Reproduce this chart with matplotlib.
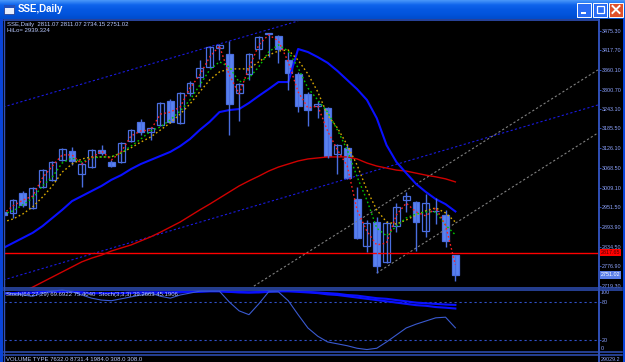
import matplotlib
matplotlib.use("Agg")
import matplotlib.pyplot as plt
import numpy as np
from matplotlib.patches import Rectangle
from matplotlib.colors import LinearSegmentedColormap
from matplotlib.transforms import blended_transform_factory

plt.rcParams['font.family'] = ['Liberation Sans', 'DejaVu Sans']

# ---- candles (SSE daily) ----
opens = [2937.7, 2934.8, 2994.1, 2949.6, 3011.8, 3032.6, 3091.9, 3118.6, 3050.4, 3071.2,
         3121.5, 3086.0, 3086.0, 3148.2, 3204.6, 3174.9, 3195.7, 3266.8, 3201.6, 3290.6,
         3338.0, 3367.6, 3424.0, 3406.2, 3290.6, 3346.9, 3421.0, 3466.0, 3459.6, 3388.4,
         3346.9, 3287.6, 3252.0, 3246.1, 3109.7, 3127.5, 2976.3, 2836.9, 2908.1, 2789.5,
         2896.2, 2973.3, 2967.4, 2881.4, 2940.7, 2928.8, 2811.07]
highs = [2943.7, 2976.3, 3000.0, 3011.8, 3065.2, 3088.9, 3127.5, 3130.4, 3086.0, 3124.5,
         3136.4, 3091.9, 3145.3, 3183.8, 3213.5, 3189.7, 3263.9, 3272.8, 3293.5, 3326.1,
         3388.4, 3429.9, 3435.8, 3444.7, 3320.2, 3409.2, 3459.6, 3468.5, 3462.6, 3412.1,
         3352.9, 3293.5, 3266.8, 3249.1, 3139.3, 3139.3, 3011.8, 2914.0, 2922.9, 2911.1,
         2964.4, 2997.0, 2970.4, 2991.1, 2979.2, 2943.7, 2811.07]
lows = [2922.9, 2919.9, 2952.5, 2946.6, 3008.9, 3029.6, 3088.9, 3077.1, 3011.8, 3068.2,
        3106.7, 3071.2, 3083.0, 3145.3, 3166.0, 3151.2, 3192.7, 3201.6, 3198.7, 3281.7,
        3308.3, 3364.7, 3388.4, 3166.0, 3207.5, 3329.1, 3391.4, 3397.3, 3379.5, 3299.4,
        3234.2, 3192.7, 3216.4, 3097.8, 3050.4, 3035.6, 2857.7, 2819.1, 2756.9, 2786.5,
        2878.4, 2937.7, 2822.1, 2863.6, 2902.1, 2833.9, 2734.15]
closes = [2928.8, 2973.3, 2958.5, 3008.9, 3062.2, 3086.0, 3124.5, 3088.9, 3080.0, 3121.5,
          3112.7, 3074.1, 3142.3, 3180.8, 3174.9, 3186.8, 3260.9, 3204.6, 3290.6, 3320.2,
          3364.7, 3426.9, 3432.9, 3257.9, 3317.2, 3406.2, 3456.6, 3468.5, 3421.0, 3349.9,
          3252.0, 3240.2, 3257.9, 3103.8, 3136.4, 3038.5, 2860.6, 2905.1, 2777.6, 2905.1,
          2952.5, 2985.2, 2908.1, 2964.4, 2939.5, 2851.7, 2751.02]

# indicator lines
ma_red = [2932, 2956, 2973, 2985, 3039, 3074, 3107, 3107, 3080, 3098,
          3119, 3092, 3116, 3163, 3178, 3181, 3228, 3234, 3249, 3305,
          3344, 3397, 3430, 3344, 3288, 3365, 3433, 3463, 3445, 3383,
          3294, 3246, 3252, 3178, 3122, 3074, 2944, 2881, 2840, 2846,
          2929, 2964, 2938, 2926, 2950, 2899, 2781]
ma_green = [2932, 2941, 2959, 2979, 3015, 3042, 3083, 3098, 3086, 3098,
            3101, 3101, 3113, 3133, 3154, 3178, 3190, 3211, 3237, 3270,
            3314, 3359, 3383, 3368, 3323, 3335, 3368, 3412, 3433, 3415,
            3365, 3305, 3270, 3234, 3181, 3122, 3042, 2973, 2890, 2867,
            2896, 2920, 2932, 2938, 2938, 2899, 2870]
ma_gold = [2908, 2917, 2932, 2953, 2982, 3015, 3056, 3080, 3095, 3101,
           3101, 3101, 3113, 3128, 3145, 3160, 3181, 3202, 3228, 3258,
           3294, 3329, 3353, 3362, 3362, 3362, 3383, 3403, 3415, 3418,
           3388, 3347, 3294, 3225, 3187, 3136, 3077, 3003, 2944, 2908,
           2902, 2914, 2929, 2941, 2950, 2935, 2908]
hilo = [2831, 2846, 2861, 2876, 2896, 2920, 2944, 2970, 2985, 3000,
        3015, 3033, 3047, 3065, 3080, 3092, 3104, 3116, 3133, 3154,
        3181, 3205, 3234, 3240, 3243, 3261, 3282, 3302, 3323, 3323,
        3421, 3412, 3397, 3380, 3356, 3329, 3302, 3270, 3216, 3136,
        3086, 3053, 3021, 2997, 2976, 2961, 2939.324]
ma_long = [2671, 2686, 2701, 2715, 2730, 2745, 2760, 2775, 2790, 2801,
           2810, 2822, 2831, 2840, 2852, 2864, 2878, 2893, 2908, 2926,
           2944, 2961, 2979, 2997, 3015, 3030, 3044, 3059, 3071, 3080,
           3089, 3095, 3098, 3101, 3101, 3101, 3095, 3083, 3074, 3068,
           3062, 3059, 3053, 3047, 3042, 3036, 3027]

stoch_slow_main = [94, 94, 95, 95, 96, 97, 97, 96, 95, 94,
                   94, 94, 94, 95, 95, 95, 95, 95, 96, 96,
                   97, 97, 97, 96, 95, 95, 96, 97, 97, 97,
                   96, 95, 94, 92, 91, 89, 87, 85, 83, 81,
                   79, 77, 75, 74, 72, 71, 69.69]
stoch_slow_sig = [93, 93, 94, 94, 95, 96, 96, 96, 95, 94,
                  94, 94, 94, 94, 95, 95, 95, 95, 95, 96,
                  96, 97, 97, 96, 96, 95, 95, 96, 97, 97,
                  97, 96, 95, 94, 93, 91, 90, 88, 86, 85,
                  83, 81, 79, 78, 77, 76, 75.40]
stoch_fast = [94, 93, 91, 89, 94, 97, 99, 96, 91, 86,
              83, 82, 85, 88, 91, 94, 89, 86, 91, 94,
              97, 97, 97, 80, 66, 60, 77, 96, 96, 82,
              60, 39, 26, 17, 14, 11, 7, 5, 7, 17,
              28, 39, 45, 50, 55, 56, 39.27]

price_levels = [3475.30, 3417.70, 3360.10, 3300.70, 3243.10, 3185.50, 3126.10,
                3068.50, 3009.10, 2951.50, 2893.90, 2834.50, 2776.90, 2719.30]
hline_price = 2817.65
# trend lines: (bar index, price)
channel_top = ([0, 30], [3249, 3504])
channel_bot = ([0, 60.5], [2736, 3255])
gray_upper = ([25.5, 60.5], [2718, 3359])
gray_lower = ([38, 60.5], [2757, 3172])

W, H = 625, 362
fig = plt.figure(figsize=(W / 100, H / 100), dpi=100, facecolor='black')


def rect(x0, y0, x1, y1):
    return [x0 / W, 1 - y1 / H, (x1 - x0) / W, (y1 - y0) / H]


FRAME = '#3050b8'
LBL = '#8ea4ff'
FS = 3.9
CANDLE_EDGE = '#4a6ee0'
CANDLE_FILL = '#5a82f0'

x = np.arange(len(closes))

# ---- main price pane ----
ax = fig.add_axes(rect(4, 21, 598, 288))
ax.set_facecolor('black')
ax.set_xlim(0.08, 60.51)
ax.set_ylim(2712.4, 3504.0)

ax.plot(*channel_top, color='#1a1ae0', lw=0.8, ls=(0, (2, 2)))
ax.plot(*channel_bot, color='#1a1ae0', lw=0.8, ls=(0, (2, 2)))
ax.plot(*gray_upper, color='#808080', lw=0.8, ls=(0, (2, 2)))
ax.plot(*gray_lower, color='#808080', lw=0.8, ls=(0, (2, 2)))
ax.axhline(hline_price, color='#ff0000', lw=1)

ax.plot(x, ma_long, color='#d00000', lw=1.0)
ax.plot(x, hilo, color='#0a10ff', lw=1.5)

o = np.array(opens)
c = np.array(closes)
up = c >= o
ax.vlines(x, lows, highs, color=CANDLE_EDGE, lw=1.0)
body_lo = np.minimum(o, c)
body_h = np.maximum(np.abs(c - o), 2.0)
ax.bar(x[up], body_h[up], bottom=body_lo[up], width=0.7,
       facecolor='black', edgecolor=CANDLE_EDGE, lw=0.9)
ax.bar(x[~up], body_h[~up], bottom=body_lo[~up], width=0.7,
       facecolor=CANDLE_FILL, edgecolor=CANDLE_EDGE, lw=0.9)

ax.plot(x, ma_gold, color='#d8a800', lw=1.0, ls=(0, (1.2, 1.8)))
ax.plot(x, ma_green, color='#00c800', lw=1.0, ls=(0, (1.2, 1.8)))
ax.plot(x, ma_red, color='#ff2020', lw=1.0, ls=(0, (1.2, 1.8)))

ax.set_xticks([])
ax.yaxis.tick_right()
ax.set_yticks(price_levels)
ax.set_yticklabels([f"{v:.2f}" for v in price_levels])
ax.tick_params(axis='y', length=2.2, width=0.7, color=FRAME, labelcolor=LBL,
               labelsize=FS, pad=0.8)
for s in ax.spines.values():
    s.set_visible(False)

tr = blended_transform_factory(ax.transAxes, ax.transData)
ax.text(1.0045, hline_price, f"{hline_price:.2f}", transform=tr, fontsize=FS,
        color='#500000', va='center', ha='left',
        bbox=dict(boxstyle='square,pad=0.2', fc='#ff0000', ec='none'))
ax.text(1.0045, closes[-1], f"{closes[-1]:.2f}", transform=tr, fontsize=FS,
        color='white', va='center', ha='left',
        bbox=dict(boxstyle='square,pad=0.2', fc='#5a7ee8', ec='none'))

# ---- stochastic pane ----
sx = fig.add_axes(rect(4, 289.3, 598, 352.7))
sx.set_facecolor('black')
sx.set_xlim(0.08, 60.51)
sx.set_ylim(0, 100)
for lv in (80, 20):
    sx.axhline(lv, color='#3050c8', lw=0.8, ls=(0, (2, 2.5)))
sx.plot(x, stoch_slow_sig, color='#0a10ff', lw=1.5)
sx.plot(x, stoch_slow_main, color='#0a10ff', lw=1.5)
sx.plot(x, stoch_fast, color='#3a5ad0', lw=0.8)
sx.set_xticks([])
sx.yaxis.tick_right()
sx.set_yticks([80, 20])
sx.set_yticklabels(['80', '20'])
sx.tick_params(axis='y', length=2.2, width=0.7, color=FRAME, labelcolor=LBL,
               labelsize=FS, pad=0.8)
for s in sx.spines.values():
    s.set_visible(False)
tr2 = blended_transform_factory(sx.transAxes, sx.transData)
sx.text(1.005, 95, '100', transform=tr2, fontsize=FS, color=LBL, va='center')
sx.text(1.005, 7, '0', transform=tr2, fontsize=FS, color=LBL, va='center')

# ---- volume pane (mostly cut off) ----
vx = fig.add_axes(rect(4, 354, 598, 362))
vx.set_facecolor('black')
vx.set_xticks([])
vx.set_yticks([])
for s in vx.spines.values():
    s.set_visible(False)

# ---- window chrome and pane frames ----
ov = fig.add_axes([0, 0, 1, 1])
ov.set_xlim(0, W)
ov.set_ylim(H, 0)
ov.axis('off')
ov.patch.set_alpha(0)

cmap = LinearSegmentedColormap.from_list(
    'xp', ['#4a98fa', '#0f64ec', '#0558e2', '#0254dc', '#004ccc'])
grad = np.linspace(0, 1, 64).reshape(-1, 1)
ov.imshow(grad, cmap=cmap, extent=(0, W, 19, 0), aspect='auto')
ov.add_patch(Rectangle((0, 19), 3, H - 19, color='#0a44d8', lw=0))
ov.add_patch(Rectangle((622.5, 19), 2.5, H - 19, color='#0a44d8', lw=0))

# icon + title
ov.add_patch(Rectangle((4, 5), 10, 9, fc='#e8eefc', ec='#203080', lw=0.5))
ov.add_patch(Rectangle((4, 5), 10, 2.5, fc='#2050c0', lw=0))
ov.text(18, 9.5, 'SSE,Daily', color='white', fontsize=7, fontweight='bold',
        va='center', ha='left')

# caption buttons
for bx in (577, 593):
    ov.add_patch(Rectangle((bx, 2.5), 14, 14, fc='#2a6cf4', ec='white', lw=0.7))
ov.add_patch(Rectangle((581, 12), 5, 1.8, color='white', lw=0))
ov.add_patch(Rectangle((596.5, 5.5), 7, 7, fc='none', ec='white', lw=0.9))
ov.add_patch(Rectangle((596.5, 5.5), 7, 1.6, color='white', lw=0))
ov.add_patch(Rectangle((609, 2.5), 14, 14, fc='#e0502a', ec='white', lw=0.7))
ov.plot([612.5, 619.5], [6, 13], color='white', lw=1.4)
ov.plot([612.5, 619.5], [13, 6], color='white', lw=1.4)

# pane borders
ov.plot([3.5, 599], [20, 20], color=FRAME, lw=1.2)
ov.plot([3.5, 3.5], [20, H], color=FRAME, lw=1.0)
ov.plot([598.5, 598.5], [20, H], color=FRAME, lw=1.4)
for yy in (287.5, 290, 352.3, 354.5):
    ov.plot([3.5, 622], [yy, yy], color=FRAME, lw=1.1)

# status texts
ov.text(7, 24.5, 'SSE,Daily  2811.07 2811.07 2734.15 2751.02', color='#b8c8ff',
        fontsize=4.3, va='center', ha='left')
ov.text(7, 31, 'HiLo= 2939.324', color='#b8c8ff', fontsize=4.3, va='center', ha='left')
ov.text(6, 294.5, 'Stoch(64,27,29) 69.6922 75.4040  Stoch(3,3,3) 39.2663 45.1906',
        color='#b8c8ff', fontsize=4.3, va='center', ha='left')
ov.text(6, 359.5, 'VOLUME TYPE 7632.0 8731.4 1984.0 308.0 308.0', color='#b8c8ff',
        fontsize=4.3, va='center', ha='left')
ov.text(601, 359.5, '29029.2', color=LBL, fontsize=FS, va='center', ha='left')

fig.savefig('out.png', dpi=100, facecolor='black')
